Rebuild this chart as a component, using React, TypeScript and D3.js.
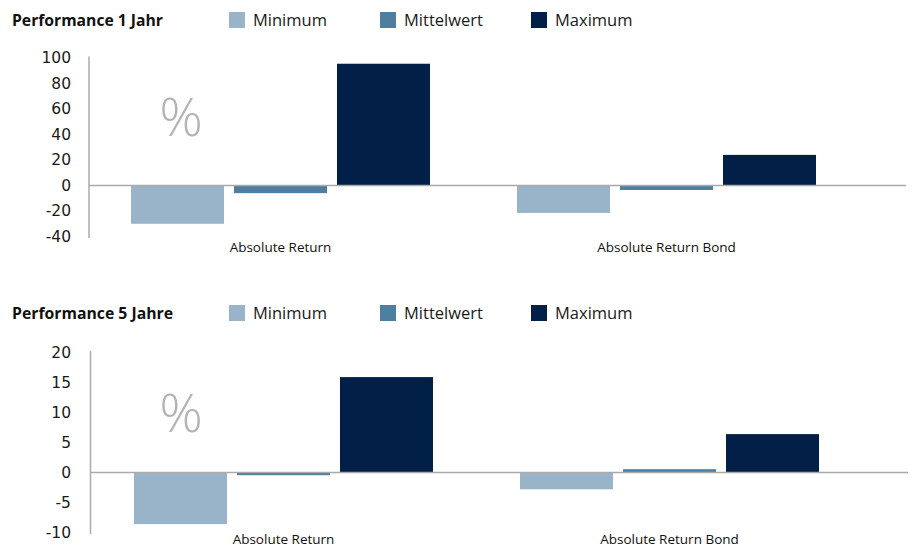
import React from "react";
import * as d3 from "d3";

const categories = ["Absolute Return", "Absolute Return Bond"];
const seriesNames = ["Minimum", "Mittelwert", "Maximum"];
const seriesColors = ["#99b3c9", "#4e7f9e", "#022047"];

const title1 = "Performance 1 Jahr";
const min1 = [-30, -21.5];
const mean1 = [-6, -3.5];
const max1 = [95.5, 24];
const ticks1 = [-40, -20, 0, 20, 40, 60, 80, 100];

const title5 = "Performance 5 Jahre";
const min5 = [-8.6, -2.8];
const mean5 = [-0.45, 0.55];
const max5 = [15.9, 6.4];
const ticks5 = [-10, -5, 0, 5, 10, 15, 20];

type PanelProps = {
  title: string;
  series: number[][];
  ticks: number[];
  top: number;
  yTop: number;
  yBottom: number;
  axisX: number;
  xRange: [number, number];
  lineEnd: number;
  labelY: number;
};

function Panel(p: PanelProps) {
  const dom = d3.extent(p.ticks) as [number, number];
  const y = d3.scaleLinear().domain(dom).range([p.yBottom, p.yTop]);
  const x0 = d3.scaleBand<string>().domain(categories).range(p.xRange);
  const inner = d3
    .scaleBand<string>()
    .domain(seriesNames)
    .range([43.5, 342.5])
    .paddingInner(10 / 103);
  const legendX = [229, 380, 531];
  const font = "'Open Sans', sans-serif";
  return (
    <g>
      <text x={12} y={p.top + 14} fontFamily={font} fontWeight={700} fontSize={15.5} fill="#111" textLength={p.title.length > 18 ? 161 : 151} lengthAdjust="spacingAndGlyphs">
        {p.title}
      </text>
      {seriesNames.map((s, i) => (
        <g key={s}>
          <rect x={legendX[i]} y={p.top} width={16} height={16} fill={seriesColors[i]} />
          <text x={legendX[i] + 24} y={p.top + 14} fontFamily={font} fontSize={16.5} fill="#1a1a1a">
            {s}
          </text>
        </g>
      ))}
      <text x={181} y={(p.yTop + p.yBottom) / 2 - 11} textAnchor="middle" fontFamily={font} fontSize={54} fontWeight={300} fill="#b3b3b3">
        %
      </text>
      {p.ticks.map((t) => (
        <text key={t} x={71} y={y(t)} dy="0.35em" textAnchor="end" fontFamily="'DejaVu Sans', sans-serif" fontSize={15.5} fill="#1a1a1a">
          {t}
        </text>
      ))}
      {categories.map((c, ci) => (
        <g key={c}>
          {seriesNames.map((s, si) => {
            const v = p.series[si][ci];
            const bx = (x0(c) as number) + (inner(s) as number);
            return (
              <rect
                key={s}
                x={bx}
                y={Math.min(y(v), y(0))}
                width={inner.bandwidth()}
                height={Math.abs(y(v) - y(0))}
                fill={seriesColors[si]}
              />
            );
          })}
          <text x={(x0(c) as number) + x0.bandwidth() / 2} y={p.labelY} textAnchor="middle" fontFamily={font} fontSize={13.5} fill="#111">
            {c}
          </text>
        </g>
      ))}
      <line x1={p.axisX} x2={p.lineEnd} y1={y(0)} y2={y(0)} stroke="#aaaaaa" strokeWidth={1.5} />
      <line x1={p.axisX} x2={p.axisX} y1={p.yTop - 1.5} y2={p.yBottom + 1.5} stroke="#aaaaaa" strokeWidth={1.5} />
    </g>
  );
}

export default function App() {
  return (
    <svg width={913} height={547} style={{ position: "absolute", left: 0, top: 0, background: "#fff" }}>
      <Panel
        title={title1}
        series={[min1, mean1, max1]}
        ticks={ticks1}
        top={12}
        yTop={58}
        yBottom={236.5}
        axisX={89}
        xRange={[87.5, 859.5]}
        lineEnd={906}
        labelY={252}
      />
      <Panel
        title={title5}
        series={[min5, mean5, max5]}
        ticks={ticks5}
        top={305}
        yTop={352.5}
        yBottom={532.5}
        axisX={90.5}
        xRange={[90.5, 862.5]}
        lineEnd={908}
        labelY={544}
      />
    </svg>
  );
}
